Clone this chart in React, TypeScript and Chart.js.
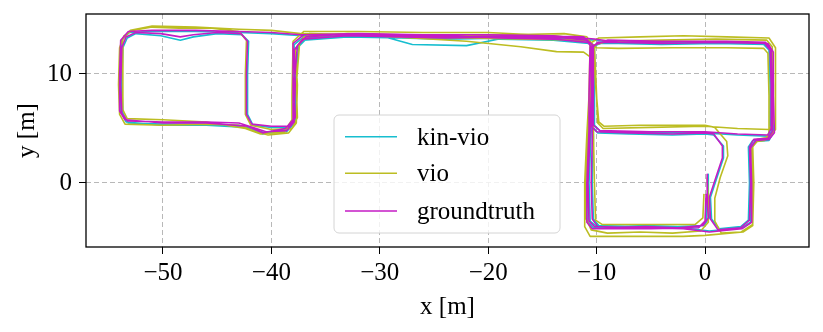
import React, { useEffect, useRef } from 'react';
import { Chart, registerables } from 'chart.js';

Chart.register(...registerables);

const SERIES_NAMES = ['kin-vio', 'vio', 'groundtruth'];
const SERIES_COLORS = ['#17becf', '#bcbd22', '#c51bc5'];
const X_TICKS = [-50, -40, -30, -20, -10, 0];
const Y_TICKS = [0, 10];
const X_LABEL = 'x [m]';
const Y_LABEL = 'y [m]';

const gtX = [
  0.2, 0.2, 0.3, -0.2, -2.5, -5.5, -8.0, -9.9, -10.4, -10.5,
  -10.4, -10.4, -10.3, -10.8, -14.0, -19.0, -24.0, -29.0, -34.0, -36.8,
  -37.6, -37.9, -37.8, -38.3, -40.0, -41.8, -42.3, -42.3, -42.2, -42.8,
  -45.0, -47.2, -48.4, -50.2, -52.5, -53.4, -53.8, -53.9, -53.8, -53.3,
  -50.0, -46.0, -43.0, -41.4, -40.5, -38.6, -37.9, -37.8, -37.9, -37.1,
  -33.0, -28.0, -24.0, -18.0, -13.0, -10.9, -10.4, -10.5, -10.5, -10.0,
  -7.0, -3.0, 0.0, 0.8, 1.6, 1.6, 1.0, 0.4, 0.5, 1.2,
  3.3, 4.1, 4.2, 4.1, 4.5, 5.8, 6.2, 6.2, 6.1, 5.6,
  2.0, -2.0, -6.0, -9.9, -10.5, -10.5, -10.6, -10.8, -10.7, -10.2,
  -6.0, -2.0, 0.4, 3.4, 4.3, 4.3, 4.2, 4.7, 5.9, 6.4,
  6.3, 6.3, 5.8, 1.0, -4.0, -8.0, -10.2, -14.0, -20.0, -26.0,
  -32.0, -37.0, -38.0, -38.0, -38.0, -38.7, -40.8, -42.2, -46.0, -50.0,
  -53.5, -54.0, -54.0, -53.9, -53.2, -51.0, -47.0, -43.0, -40.0, -37.3,
  -32.0, -27.0, -22.0, -16.0, -11.2, -10.3, -10.3, -10.3, -9.7, -5.0,
  0.0, 3.0, 5.8, 6.1, 6.1, 6.0, 5.5, 1.0, -4.0, -9.0,
  -10.6, -10.7, -10.7, -10.9, -10.9, -10.4, -5.0, -0.6, 0.0, 0.1,
];
const gtY = [
  0.8, -1.5, -3.2, -3.9, -4.1, -4.0, -4.1, -4.0, -3.3, 0.0,
  4.0, 8.0, 12.2, 12.9, 13.2, 13.3, 13.5, 13.5, 13.6, 13.4,
  12.6, 9.0, 6.0, 5.2, 5.2, 5.4, 6.3, 10.0, 13.0, 13.7,
  13.8, 13.6, 13.4, 13.7, 13.8, 13.4, 12.4, 9.0, 6.4, 5.7,
  5.6, 5.6, 5.5, 5.0, 4.7, 4.8, 5.6, 9.0, 12.2, 13.2,
  13.5, 13.4, 13.3, 13.4, 13.3, 13.1, 12.3, 8.0, 5.2, 4.7,
  4.6, 4.5, 4.6, 4.5, 3.4, 2.3, 0.5, -1.3, -3.3, -4.3,
  -4.1, -3.4, 0.0, 3.3, 4.0, 4.1, 4.7, 8.0, 12.1, 12.9,
  13.0, 13.0, 12.9, 12.9, 12.3, 8.0, 4.8, 0.0, -3.5, -4.0,
  -4.1, -4.2, -4.5, -4.2, -3.6, 0.0, 3.2, 3.9, 4.0, 4.6,
  8.0, 12.0, 12.8, 12.9, 12.8, 12.9, 13.2, 13.5, 13.6, 13.6,
  13.7, 13.6, 12.8, 8.0, 5.8, 5.0, 4.6, 5.2, 5.5, 5.5,
  5.8, 6.6, 10.0, 13.1, 13.9, 14.0, 14.0, 13.9, 13.8, 13.6,
  13.6, 13.5, 13.4, 13.5, 13.4, 12.6, 8.0, 5.3, 4.8, 4.7,
  4.7, 4.5, 4.4, 5.0, 9.0, 12.2, 12.8, 13.0, 13.0, 13.1,
  12.5, 8.0, 4.9, 0.0, -3.6, -4.2, -4.2, -4.1, -3.5, -1.0,
];

const kinX = [
  0.3, 0.3, 0.4, -0.1, -2.5, -5.5, -8.0, -9.8, -10.3, -10.4,
  -10.3, -10.3, -10.2, -10.7, -14.0, -19.0, -22.0, -27.0, -29.5, -34.0,
  -36.7, -37.5, -37.8, -37.7, -38.2, -40.0, -41.7, -42.2, -42.2, -42.1,
  -42.7, -45.0, -47.2, -48.4, -50.2, -52.5, -53.3, -53.7, -53.8, -53.7,
  -53.2, -50.0, -46.0, -43.0, -41.4, -40.5, -38.6, -37.8, -37.7, -37.8,
  -37.0, -33.0, -28.0, -24.0, -18.0, -13.0, -10.8, -10.3, -10.4, -10.4,
  -9.9, -7.0, -3.0, 0.0, 0.8, 1.7, 1.7, 1.1, 0.5, 0.6,
  1.3, 3.3, 4.0, 4.1, 4.0, 4.4, 5.8, 6.1, 6.1, 6.0,
  5.5, 2.0, -2.0, -6.0, -9.8, -10.4, -10.4, -10.5, -10.7, -10.6,
  -10.1, -6.0, -2.0, 0.4, 3.4, 4.2, 4.2, 4.1, 4.6, 5.9,
  6.3, 6.2, 6.2, 5.7, 1.0, -4.0, -8.0, -10.1, -14.0, -20.0,
  -26.0, -32.0, -36.9, -37.9, -37.9, -37.9, -38.6, -40.8, -42.2, -46.0,
  -50.0, -53.4, -53.9, -53.9, -53.8, -53.1, -51.0, -47.0, -43.0, -40.0,
  -37.2, -32.0, -27.0, -22.0, -16.0, -11.1, -10.2, -10.2, -10.2, -9.6,
  -5.0, 0.0, 3.0, 5.8, 6.0, 6.0, 5.9, 5.4, 1.0, -4.0,
  -9.0, -10.5, -10.6, -10.6, -10.8, -10.8, -10.3, -5.0, -0.5, 0.1, 0.2,
];
const kinY = [
  0.8, -1.5, -3.2, -3.9, -4.0, -3.9, -4.0, -3.9, -3.3, 0.0,
  4.0, 8.0, 12.2, 12.8, 13.1, 13.2, 12.6, 12.7, 13.4, 13.5,
  13.3, 12.5, 9.0, 6.0, 5.1, 5.1, 5.3, 6.3, 10.0, 13.0,
  13.6, 13.7, 13.4, 13.1, 13.5, 13.7, 13.3, 12.4, 9.0, 6.4,
  5.5, 5.4, 5.4, 5.3, 4.8, 4.6, 4.7, 5.6, 9.0, 12.2,
  13.1, 13.4, 13.3, 13.2, 13.3, 13.2, 13.0, 12.3, 8.0, 5.2,
  4.6, 4.5, 4.4, 4.5, 4.4, 3.4, 2.3, 0.5, -1.3, -3.3,
  -4.2, -4.0, -3.4, 0.0, 3.3, 3.9, 4.0, 4.7, 8.0, 12.1,
  12.8, 12.9, 12.9, 12.8, 12.8, 12.3, 8.0, 4.8, 0.0, -3.5,
  -3.9, -4.0, -4.1, -4.4, -4.1, -3.6, 0.0, 3.2, 3.8, 3.9,
  4.6, 8.0, 12.0, 12.7, 12.8, 12.7, 12.8, 13.1, 13.4, 13.5,
  13.5, 13.6, 13.5, 12.7, 8.0, 5.8, 4.9, 4.5, 5.1, 5.3,
  5.3, 5.6, 6.6, 10.0, 13.1, 13.8, 13.9, 13.9, 13.8, 13.7,
  13.5, 13.5, 13.4, 13.3, 13.4, 13.3, 12.6, 8.0, 5.3, 4.7,
  4.6, 4.6, 4.4, 4.3, 5.0, 9.0, 12.2, 12.7, 12.9, 12.9,
  13.0, 12.5, 8.0, 4.9, 0.0, -3.6, -4.1, -4.1, -4.0, -3.5, -1.0,
];

const vioX = [
  0.2, 0.3, 0.3, -0.4, -3.0, -6.0, -9.0, -10.5, -11.0, -11.0,
  -10.8, -10.6, -10.5, -11.2, -13.7, -17.0, -22.0, -27.0, -32.0, -36.5,
  -37.4, -37.7, -37.6, -38.1, -40.0, -41.9, -42.4, -42.4, -42.3, -43.0,
  -45.5, -48.5, -51.0, -52.8, -53.6, -54.0, -54.1, -54.0, -53.5, -50.0,
  -46.0, -43.0, -41.4, -40.3, -38.4, -37.7, -37.6, -37.8, -37.0, -33.0,
  -28.0, -24.0, -18.0, -13.0, -10.9, -10.3, -10.1, -9.8, -9.3, -6.0,
  -2.0, 0.0, 0.9, 2.0, 2.1, 1.4, 0.9, 0.9, 1.5, 3.3,
  4.4, 4.5, 4.4, 4.8, 5.9, 6.5, 6.5, 6.5, 5.9, 2.0,
  -2.0, -6.0, -9.8, -10.6, -10.7, -10.9, -11.1, -11.1, -10.6, -6.0,
  -2.0, 0.0, 3.5, 4.4, 4.4, 4.3, 4.8, 5.5, 5.9, 5.9,
  5.8, 5.4, 2.0, -3.0, -8.0, -10.0, -11.0, -14.0, -20.0, -26.0,
  -32.0, -37.0, -38.0, -38.1, -38.1, -38.8, -41.0, -42.4, -46.0, -50.0,
  -53.3, -53.7, -53.7, -53.7, -53.0, -51.0, -47.0, -43.0, -40.0, -37.3,
  -32.0, -27.0, -22.0, -16.0, -11.0, -10.2, -10.0, -9.9, -9.4, -5.0,
  0.0, 3.0, 5.9, 6.3, 6.3, 6.2, 5.7, 1.0, -4.0, -9.0,
  -10.4, -10.5, -10.3, -10.2, -10.1, -9.5, -5.0, -0.9, -0.2, -0.1,
];
const vioY = [
  0.5, -1.5, -3.6, -4.4, -4.6, -4.5, -4.6, -4.3, -3.2, 0.0,
  4.0, 8.0, 11.5, 12.0, 12.05, 12.5, 13.0, 13.3, 13.6, 13.7,
  12.8, 9.0, 6.0, 5.0, 4.9, 5.3, 6.3, 10.0, 13.1, 13.9,
  14.2, 14.2, 14.3, 14.0, 13.5, 12.4, 9.0, 6.3, 5.4, 5.3,
  5.4, 5.3, 4.7, 4.4, 4.6, 5.5, 9.0, 12.3, 13.4, 13.7,
  13.6, 13.5, 13.6, 13.7, 13.4, 12.6, 9.0, 5.6, 5.2, 5.3,
  5.3, 5.3, 5.1, 3.8, 2.5, 0.5, -1.4, -3.5, -4.6, -4.5,
  -3.8, 0.0, 3.3, 4.0, 4.2, 4.9, 8.0, 12.4, 13.3, 13.4,
  13.5, 13.4, 13.3, 12.8, 8.0, 4.5, 0.0, -4.0, -4.9, -4.9,
  -4.9, -4.8, -4.5, -3.9, 0.0, 3.2, 3.8, 3.9, 4.6, 8.0,
  11.9, 12.35, 12.4, 12.4, 12.35, 12.4, 13.2, 13.5, 13.8, 13.8,
  13.9, 13.9, 13.0, 8.0, 5.8, 4.7, 4.5, 5.0, 5.6, 5.8,
  5.9, 6.7, 10.0, 13.2, 14.0, 14.4, 14.3, 14.1, 14.0, 13.7,
  13.6, 13.4, 13.3, 13.2, 13.1, 12.5, 8.0, 5.5, 5.0, 5.1,
  5.2, 5.0, 4.9, 5.4, 9.0, 12.5, 13.1, 13.2, 13.1, 13.0,
  12.6, 8.0, 4.8, 0.0, -3.4, -3.8, -3.8, -3.8, -3.2, -1.0,
];

const FONT = "'Liberation Serif', 'Times New Roman', serif";
const FONT_SIZE = 25;

const toPoints = (xs: number[], ys: number[]) =>
  xs.slice(0, Math.min(xs.length, ys.length)).map((x, i) => ({ x, y: ys[i] }));

const fmt = (v: number) => (v < 0 ? '\u2212' + Math.abs(v) : String(v));

const frameLegendPlugin = {
  id: 'frameLegend',
  afterDraw(chart: any) {
    const { ctx, chartArea: ca } = chart;
    ctx.save();
    ctx.setLineDash([]);
    ctx.strokeStyle = '#000';
    ctx.lineWidth = 1.3;
    ctx.strokeRect(ca.left, ca.top, ca.right - ca.left, ca.bottom - ca.top);

    // legend box
    const lx = ca.left + 248;
    const ly = ca.top + 101;
    const lw = 226;
    const lh = 118;
    const r = 5;
    ctx.beginPath();
    ctx.moveTo(lx + r, ly);
    ctx.arcTo(lx + lw, ly, lx + lw, ly + lh, r);
    ctx.arcTo(lx + lw, ly + lh, lx, ly + lh, r);
    ctx.arcTo(lx, ly + lh, lx, ly, r);
    ctx.arcTo(lx, ly, lx + lw, ly, r);
    ctx.closePath();
    ctx.fillStyle = 'rgba(255,255,255,0.8)';
    ctx.fill();
    ctx.strokeStyle = '#d4d4d4';
    ctx.lineWidth = 1;
    ctx.stroke();

    const rows = [122.7, 159.3, 197];
    ctx.font = `${FONT_SIZE}px ${FONT}`;
    ctx.textBaseline = 'alphabetic';
    ctx.textAlign = 'left';
    SERIES_NAMES.forEach((name, i) => {
      const yy = ca.top + rows[i];
      ctx.beginPath();
      ctx.moveTo(ca.left + 259, yy);
      ctx.lineTo(ca.left + 311, yy);
      ctx.strokeStyle = SERIES_COLORS[i];
      ctx.lineWidth = 1.6;
      ctx.stroke();
      ctx.fillStyle = '#000';
      ctx.fillText(name, ca.left + 331, yy + 8);
    });
    ctx.restore();
  },
};

export default function App() {
  const ref = useRef<HTMLCanvasElement | null>(null);
  useEffect(() => {
    if (!ref.current) return;
    const series = [
      toPoints(kinX, kinY),
      toPoints(vioX, vioY),
      toPoints(gtX, gtY),
    ];
    const chart = new Chart(ref.current, {
      type: 'scatter',
      data: {
        datasets: series.map((pts, i) => ({
          label: SERIES_NAMES[i],
          data: pts,
          showLine: true,
          borderColor: SERIES_COLORS[i],
          backgroundColor: SERIES_COLORS[i],
          borderWidth: 1.6,
          pointRadius: 0,
          pointHoverRadius: 0,
          fill: false,
          tension: 0,
          borderJoinStyle: 'round',
          order: 3 - i,
        })),
      },
      options: {
        responsive: false,
        animation: false,
        devicePixelRatio: 1,
        events: [],
        layout: { padding: { top: 14, right: 14, left: 0, bottom: 0 } },
        plugins: { legend: { display: false }, tooltip: { enabled: false } },
        scales: {
          x: {
            type: 'linear',
            min: -57.1,
            max: 9.59,
            afterBuildTicks: (s: any) => {
              s.ticks = X_TICKS.map((v) => ({ value: v }));
            },
            afterFit: (s: any) => {
              s.height = 85;
              s.paddingLeft = 0;
              s.paddingRight = 0;
            },
            ticks: {
              color: '#000',
              font: { family: FONT, size: FONT_SIZE },
              padding: 4,
              maxRotation: 0,
              callback: (v: any) => fmt(Number(v)),
            },
            grid: {
              color: '#b0b0b0',
              lineWidth: 0.9,
              drawTicks: true,
              tickLength: 7,
              tickColor: '#000',
              tickWidth: 1,
            },
            border: { display: false, dash: [5, 3] },
            title: {
              display: true,
              text: X_LABEL,
              color: '#000',
              font: { family: FONT, size: FONT_SIZE },
              padding: { top: 0, bottom: 10 },
            },
          },
          y: {
            type: 'linear',
            min: -5.87,
            max: 15.5,
            afterBuildTicks: (s: any) => {
              s.ticks = Y_TICKS.map((v) => ({ value: v }));
            },
            afterFit: (s: any) => {
              s.width = 86;
              s.paddingTop = 0;
              s.paddingBottom = 0;
            },
            ticks: {
              color: '#000',
              font: { family: FONT, size: FONT_SIZE },
              padding: 7,
              callback: (v: any) => fmt(Number(v)),
            },
            grid: {
              color: '#b0b0b0',
              lineWidth: 0.9,
              drawTicks: true,
              tickLength: 7,
              tickColor: '#000',
              tickWidth: 1,
            },
            border: { display: false, dash: [5, 3] },
            title: {
              display: true,
              text: Y_LABEL,
              color: '#000',
              font: { family: FONT, size: FONT_SIZE },
              padding: { top: 12, bottom: 0 },
            },
          },
        },
      },
      plugins: [frameLegendPlugin],
    } as any);
    return () => chart.destroy();
  }, []);

  return (
    <div style={{ position: 'absolute', left: 0, top: 0, width: 823, height: 332, background: '#fff' }}>
      <canvas ref={ref} width={823} height={332} style={{ display: 'block' }} />
    </div>
  );
}
